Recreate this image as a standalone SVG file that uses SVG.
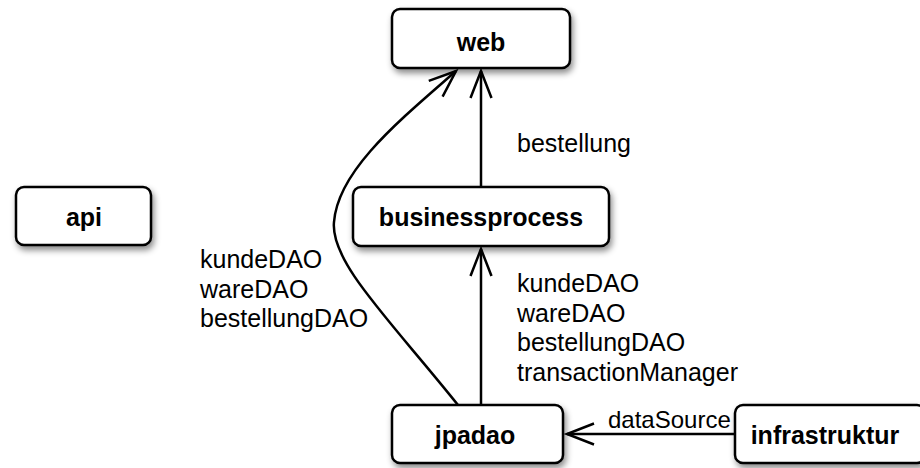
<svg xmlns="http://www.w3.org/2000/svg" width="920" height="468" viewBox="0 0 920 468">
<style>
.box{fill:#fff;stroke:#000;stroke-width:2.5;filter:url(#sh)}
.nl{font-family:"Liberation Sans",Arial,sans-serif;font-weight:bold;font-size:25px;text-anchor:middle;fill:#000}
.el{font-family:"Liberation Sans",Arial,sans-serif;font-size:25px;fill:#000}
.c{fill:none;stroke:#000;stroke-width:2.5;marker-end:url(#ah)}
</style>
<defs>
<filter id="sh" x="-20%" y="-30%" width="140%" height="170%">
<feDropShadow dx="2" dy="4" stdDeviation="3" flood-color="#000" flood-opacity="0.45"/>
</filter>
<marker id="ah" markerUnits="userSpaceOnUse" markerWidth="40" markerHeight="30" viewBox="-30 -15 34 30" refX="0" refY="0" orient="auto">
<path d="M-27,-10.5 L0,0 L-27,10.5" fill="none" stroke="#000" stroke-width="2.5"/>
</marker>
</defs>
<rect width="920" height="468" fill="#fff"/>
<g id="connectors">
<path class="c" d="M481,187 L481,71"/>
<path class="c" d="M481,405 L481,249"/>
<path class="c" d="M458,405 C390,320 330,262 334,222 C338,170 400,120 456,71"/>
<path class="c" d="M735,434 L567,434"/>
<text class="el" x="517" y="152">bestellung</text>
<text class="el" x="517" y="292">kundeDAO</text>
<text class="el" x="517" y="322">wareDAO</text>
<text class="el" x="517" y="351">bestellungDAO</text>
<text class="el" x="517" y="381">transactionManager</text>
<text class="el" x="200" y="268">kundeDAO</text>
<text class="el" x="200" y="298">wareDAO</text>
<text class="el" x="200" y="327">bestellungDAO</text>
<text class="el" x="608" y="428" style="font-size:24px">dataSource</text>
</g>
<g id="web"><rect class="box" x="392" y="9" width="178" height="59" rx="8"/><text class="nl" x="481" y="51">web</text></g>
<g id="api"><rect class="box" x="16" y="187" width="135" height="58" rx="8"/><text class="nl" x="84" y="226">api</text></g>
<g id="businessprocess"><rect class="box" x="353" y="187" width="256" height="59" rx="8"/><text class="nl" x="481" y="226">businessprocess</text></g>
<g id="jpadao"><rect class="box" x="392" y="405" width="171" height="58" rx="8"/><text class="nl" x="475" y="444">jpadao</text></g>
<g id="infrastruktur"><rect class="box" x="735" y="405" width="190" height="58" rx="8"/><text class="nl" x="825" y="444">infrastruktur</text></g>
</svg>
